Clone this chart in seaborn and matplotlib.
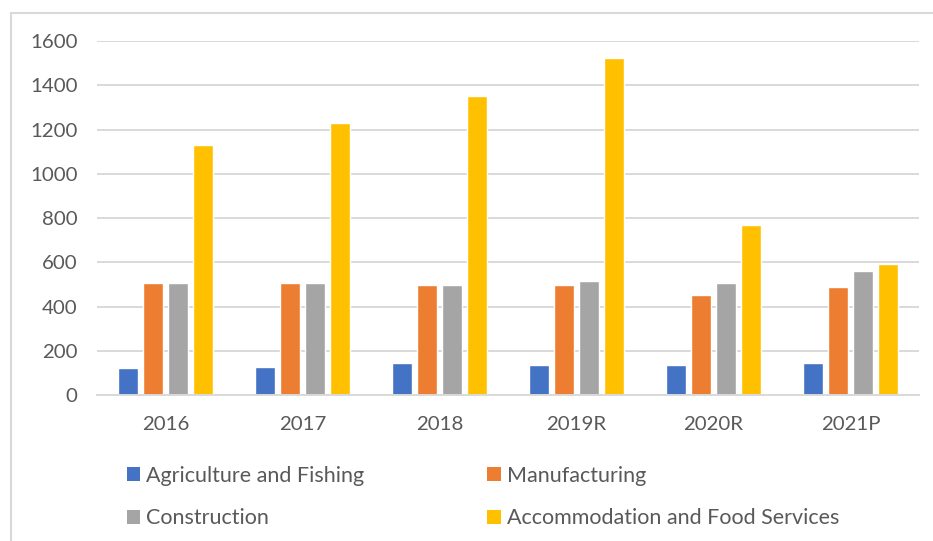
import matplotlib
matplotlib.use("Agg")
import matplotlib.pyplot as plt
from matplotlib.patches import Patch
from matplotlib.lines import Line2D
import pandas as pd
import seaborn as sns

# Employment-style counts by sector and year
years = ["2016", "2017", "2018", "2019R", "2020R", "2021P"]
sectors = ["Agriculture and Fishing", "Manufacturing", "Construction",
           "Accommodation and Food Services"]
agriculture = [120, 126, 143, 137, 137, 143]
manufacturing = [507, 507, 496, 495, 452, 486]
construction = [507, 507, 496, 513, 508, 561]
accommodation = [1128, 1230, 1353, 1522, 770, 594]
colors = ["#4472C4", "#ED7D31", "#A5A5A5", "#FFC000"]
y_ticks = [0, 200, 400, 600, 800, 1000, 1200, 1400, 1600]

rows = []
for name, vals in zip(sectors, [agriculture, manufacturing, construction, accommodation]):
    for yr, v in zip(years, vals):
        rows.append({"year": yr, "sector": name, "value": v})
df = pd.DataFrame(rows)

sns.set_theme(style="white")
plt.rcParams["font.family"] = ["Lato", "DejaVu Sans"]
text_color = "#595959"
grid_color = "#D9D9D9"

W, H = 933, 541
fig = plt.figure(figsize=(W / 100, H / 100), dpi=100)
fig.patch.set_facecolor("white")

# outer frame (top and left edges visible)
fig.add_artist(Line2D([11 / W, 1.0], [1 - 13 / H, 1 - 13 / H], color=grid_color, lw=1.5,
                      transform=fig.transFigure))
fig.add_artist(Line2D([11 / W, 11 / W], [0, 1 - 13 / H], color=grid_color, lw=1.5,
                      transform=fig.transFigure))

left, right, top, bottom = 97, 919, 41, 395
ax = fig.add_axes([left / W, 1 - bottom / H, (right - left) / W, (bottom - top) / H])

sns.barplot(data=df, x="year", y="value", hue="sector", order=years,
            hue_order=sectors, palette=colors, width=0.73, gap=0.2,
            saturation=1, errorbar=None, ax=ax, legend=False)

ax.set_ylim(0, 1600)
ax.set_xlim(-0.5, len(years) - 0.5)
ax.set_yticks(y_ticks)
ax.set_yticklabels([str(t) for t in y_ticks])
ax.yaxis.grid(True, color=grid_color, lw=1.4)
ax.set_axisbelow(True)
for s in ["top", "right", "left"]:
    ax.spines[s].set_visible(False)
ax.spines["bottom"].set_color(grid_color)
ax.spines["bottom"].set_linewidth(1.4)
ax.set_xlabel("")
ax.set_ylabel("")
ax.tick_params(axis="x", length=0, pad=15, labelsize=14.7, labelcolor=text_color)
ax.tick_params(axis="y", length=0, pad=14, labelsize=14.7, labelcolor=text_color)

# legend filled row by row: two entries per row
handles = [Patch(facecolor=c, edgecolor="none") for c in colors]
order = [0, 2, 1, 3]
fig.legend([handles[i] for i in order], [sectors[i] for i in order],
           loc="upper left", ncol=2,
           bbox_to_anchor=(118 / W, 1 - 457 / H), frameon=False,
           fontsize=15.5, labelcolor=text_color,
           handlelength=0.62, handleheight=0.62, handletextpad=0.3,
           columnspacing=5.7, labelspacing=1.05, borderaxespad=0)

fig.savefig("out.png", dpi=100)
